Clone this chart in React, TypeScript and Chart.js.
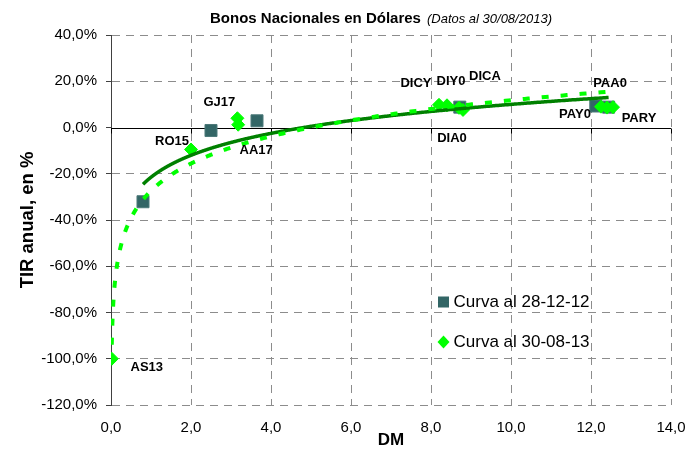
import React, { useEffect, useRef } from "react";
import { Chart, registerables } from "chart.js";

Chart.register(...registerables);

// ---- text ----
const TITLE_MAIN = "Bonos Nacionales en Dólares";
const TITLE_NOTE = "(Datos al 30/08/2013)";
const X_TITLE = "DM";
const Y_TITLE = "TIR anual, en %";
const SERIES_1_NAME = "Curva al 28-12-12";
const SERIES_2_NAME = "Curva al 30-08-13";

// ---- data: Curva al 28-12-12 ----
const S1_DM = [0.8, 2.5, 3.65, 8.72, 12.12, 12.44];
const S1_TIR = [-32.1, -1.3, 2.9, 8.8, 9.3, 8.8];

// ---- data: Curva al 30-08-13 ----
const S2_NAMES = ["AS13", "RO15", "GJ17", "AA17", "DICY", "DIY0", "DICA", "DIA0", "PAA0", "PAY0", "PARY"];
const S2_DM = [0.02, 2.0, 3.16, 3.18, 8.2, 8.4, 8.7, 8.8, 12.25, 12.4, 12.55];
const S2_TIR = [-100, -9.5, 4.0, 1.2, 9.8, 9.6, 8.5, 7.6, 9.0, 8.6, 8.8];

// ---- axes ----
const X_MIN = 0;
const X_MAX = 14;
const X_STEP = 2;
const Y_MIN = -120;
const Y_MAX = 40;
const Y_STEP = 20;

// label placement (pixel offsets from each point), style only
const LABEL_OFFSETS: [number, number][] = [
  [35, 9], [-19, -8], [-18, -16], [18, 26], [-23, -21], [4, -24],
  [26, -31], [-11, 28], [9, -23], [-32, 7], [26, 11],
];

const FONT = "'Liberation Sans', Arial, sans-serif";
const S1_COLOR = "#336666";
const S2_COLOR = "#00FF00";
const T1_COLOR = "#008000";
const GRID_COLOR = "#8c8c8c";

function logFit(xs: number[], ys: number[]) {
  const n = xs.length;
  const lx = xs.map((v) => Math.log(v));
  const mx = lx.reduce((s, v) => s + v, 0) / n;
  const my = ys.reduce((s, v) => s + v, 0) / n;
  let sxy = 0;
  let sxx = 0;
  for (let i = 0; i < n; i++) {
    sxy += (lx[i] - mx) * (ys[i] - my);
    sxx += (lx[i] - mx) * (lx[i] - mx);
  }
  const b = sxy / sxx;
  return { a: my - b * mx, b };
}

const fmt1 = (v: number) => v.toFixed(1).replace(".", ",");

export default function App() {
  const ref = useRef<HTMLCanvasElement | null>(null);

  useEffect(() => {
    if (!ref.current) return;

    const drawTrend = (chart: any, xs: number[], ys: number[], color: string, width: number, dash: number[]) => {
      const { a, b } = logFit(xs, ys);
      const x0 = Math.min(...xs);
      const x1 = Math.max(...xs);
      const xS = chart.scales.x;
      const yS = chart.scales.y;
      const ca = chart.chartArea;
      const ctx = chart.ctx;
      ctx.save();
      ctx.beginPath();
      ctx.rect(ca.left, ca.top, ca.right - ca.left, ca.bottom - ca.top);
      ctx.clip();
      ctx.beginPath();
      const N = 800;
      for (let i = 0; i <= N; i++) {
        const x = x0 * Math.pow(x1 / x0, i / N);
        const y = a + b * Math.log(x);
        const px = xS.getPixelForValue(x);
        const py = yS.getPixelForValue(y);
        if (i === 0) ctx.moveTo(px, py);
        else ctx.lineTo(px, py);
      }
      ctx.strokeStyle = color;
      ctx.lineWidth = width;
      ctx.setLineDash(dash);
      ctx.lineCap = "butt";
      ctx.lineJoin = "round";
      ctx.stroke();
      ctx.restore();
    };

    const customPlugin = {
      id: "custom",
      beforeDatasetsDraw(chart: any) {
        const ctx = chart.ctx;
        const xS = chart.scales.x;
        const yS = chart.scales.y;
        const ca = chart.chartArea;
        const y0 = Math.round(yS.getPixelForValue(0)) + 0.5;
        ctx.save();
        ctx.strokeStyle = "#000";
        ctx.lineWidth = 1;
        ctx.setLineDash([]);
        ctx.beginPath();
        ctx.moveTo(ca.left, y0);
        ctx.lineTo(ca.right, y0);
        xS.ticks.forEach((t: any) => {
          const px = Math.round(xS.getPixelForValue(t.value)) + 0.5;
          ctx.moveTo(px, y0);
          ctx.lineTo(px, y0 + 5);
        });
        ctx.stroke();
        ctx.restore();
      },
      afterDatasetsDraw(chart: any) {
        drawTrend(chart, S1_DM, S1_TIR, T1_COLOR, 3.5, []);
        drawTrend(chart, S2_DM, S2_TIR, S2_COLOR, 4, [7, 12]);

        const ctx = chart.ctx;
        const xS = chart.scales.x;
        const yS = chart.scales.y;
        ctx.save();
        ctx.font = `bold 13px ${FONT}`;
        ctx.fillStyle = "#000";
        ctx.textAlign = "center";
        ctx.textBaseline = "middle";
        S2_NAMES.forEach((name, i) => {
          const px = xS.getPixelForValue(S2_DM[i]);
          const py = yS.getPixelForValue(S2_TIR[i]);
          const [dx, dy] = LABEL_OFFSETS[i];
          ctx.fillText(name, px + dx, py + dy);
        });
        ctx.restore();
      },
      afterDraw(chart: any) {
        const ctx = chart.ctx;
        ctx.save();
        // title
        ctx.textBaseline = "alphabetic";
        ctx.textAlign = "left";
        ctx.fillStyle = "#000";
        ctx.font = `bold 15px ${FONT}`;
        const w1 = ctx.measureText(TITLE_MAIN).width;
        ctx.font = `italic 13px ${FONT}`;
        const gap = 6;
        const w2 = ctx.measureText(TITLE_NOTE).width;
        const start = 381 - (w1 + gap + w2) / 2;
        ctx.font = `bold 15px ${FONT}`;
        ctx.fillText(TITLE_MAIN, start, 23);
        ctx.font = `italic 13px ${FONT}`;
        ctx.fillText(TITLE_NOTE, start + w1 + gap, 23);

        // legend
        const lx = 443.5;
        const ly1 = 302;
        const ly2 = 342;
        ctx.fillStyle = S1_COLOR;
        ctx.fillRect(lx - 5.5, ly1 - 5.5, 11, 11);
        ctx.fillStyle = S2_COLOR;
        ctx.beginPath();
        ctx.moveTo(lx - 6, ly2);
        ctx.lineTo(lx, ly2 - 6.5);
        ctx.lineTo(lx + 6, ly2);
        ctx.lineTo(lx, ly2 + 6.5);
        ctx.closePath();
        ctx.fill();
        ctx.fillStyle = "#000";
        ctx.font = `17px ${FONT}`;
        ctx.textBaseline = "middle";
        ctx.fillText(SERIES_1_NAME, lx + 10, ly1);
        ctx.fillText(SERIES_2_NAME, lx + 10, ly2);
        ctx.restore();
      },
    };

    const chart = new Chart(ref.current, {
      type: "scatter",
      data: {
        datasets: [
          {
            label: SERIES_1_NAME,
            data: S1_DM.map((x, i) => ({ x, y: S1_TIR[i] })),
            pointStyle: "rect",
            pointRadius: 8.5,
            backgroundColor: S1_COLOR,
            borderColor: "#4d7a7a",
            borderWidth: 1,
            showLine: false,
            order: 1,
          },
          {
            label: SERIES_2_NAME,
            data: S2_DM.map((x, i) => ({ x, y: S2_TIR[i] })),
            pointStyle: "rectRot",
            pointRadius: 6.5,
            backgroundColor: S2_COLOR,
            borderColor: S2_COLOR,
            borderWidth: 1,
            showLine: false,
            order: 0,
          },
        ],
      },
      options: {
        animation: false,
        responsive: false,
        maintainAspectRatio: false,
        layout: { padding: { left: 0, top: 35, right: 29, bottom: 0 } },
        plugins: {
          legend: { display: false },
          title: { display: false },
          tooltip: { enabled: false },
        },
        scales: {
          x: {
            type: "linear",
            min: X_MIN,
            max: X_MAX,
            afterFit: (s: any) => {
              s.height = 46;
            },
            ticks: {
              stepSize: X_STEP,
              callback: (v: any) => fmt1(Number(v)),
              font: { family: FONT, size: 15 },
              color: "#000",
              padding: 14,
              maxRotation: 0,
            },
            grid: {
              color: (c: any) => (c.tick && c.tick.value === X_MIN ? "rgba(0,0,0,0)" : GRID_COLOR),
              lineWidth: 1,
              drawTicks: false,
            },
            border: { display: false, dash: [8, 6] },
            title: {
              display: true,
              text: X_TITLE,
              font: { family: FONT, size: 17, weight: "bold" },
              color: "#000",
              padding: { top: 0, bottom: 0 },
            },
          },
          y: {
            type: "linear",
            min: Y_MIN,
            max: Y_MAX,
            afterFit: (s: any) => {
              s.width = 111;
            },
            ticks: {
              stepSize: Y_STEP,
              callback: (v: any) => fmt1(Number(v)) + "%",
              font: { family: FONT, size: 15 },
              color: "#000",
              padding: 9,
            },
            grid: {
              color: (c: any) => (c.tick && c.tick.value === 0 ? "rgba(0,0,0,0)" : GRID_COLOR),
              lineWidth: 1,
              drawTicks: true,
              tickLength: 5,
              tickColor: "#404040",
              tickBorderDash: [],
            },
            border: { display: true, color: "#404040", width: 1, dash: [8, 6] },
            title: {
              display: true,
              text: Y_TITLE,
              font: { family: FONT, size: 18.5, weight: "bold" },
              color: "#000",
              padding: { top: 17, bottom: 0 },
            },
          },
        },
      },
      plugins: [customPlugin],
    } as any);

    return () => chart.destroy();
  }, []);

  return (
    <div style={{ position: "absolute", left: 0, top: 0, width: 700, height: 451, background: "#fff" }}>
      <canvas ref={ref} width={700} height={451} style={{ display: "block", width: 700, height: 451 }} />
    </div>
  );
}
